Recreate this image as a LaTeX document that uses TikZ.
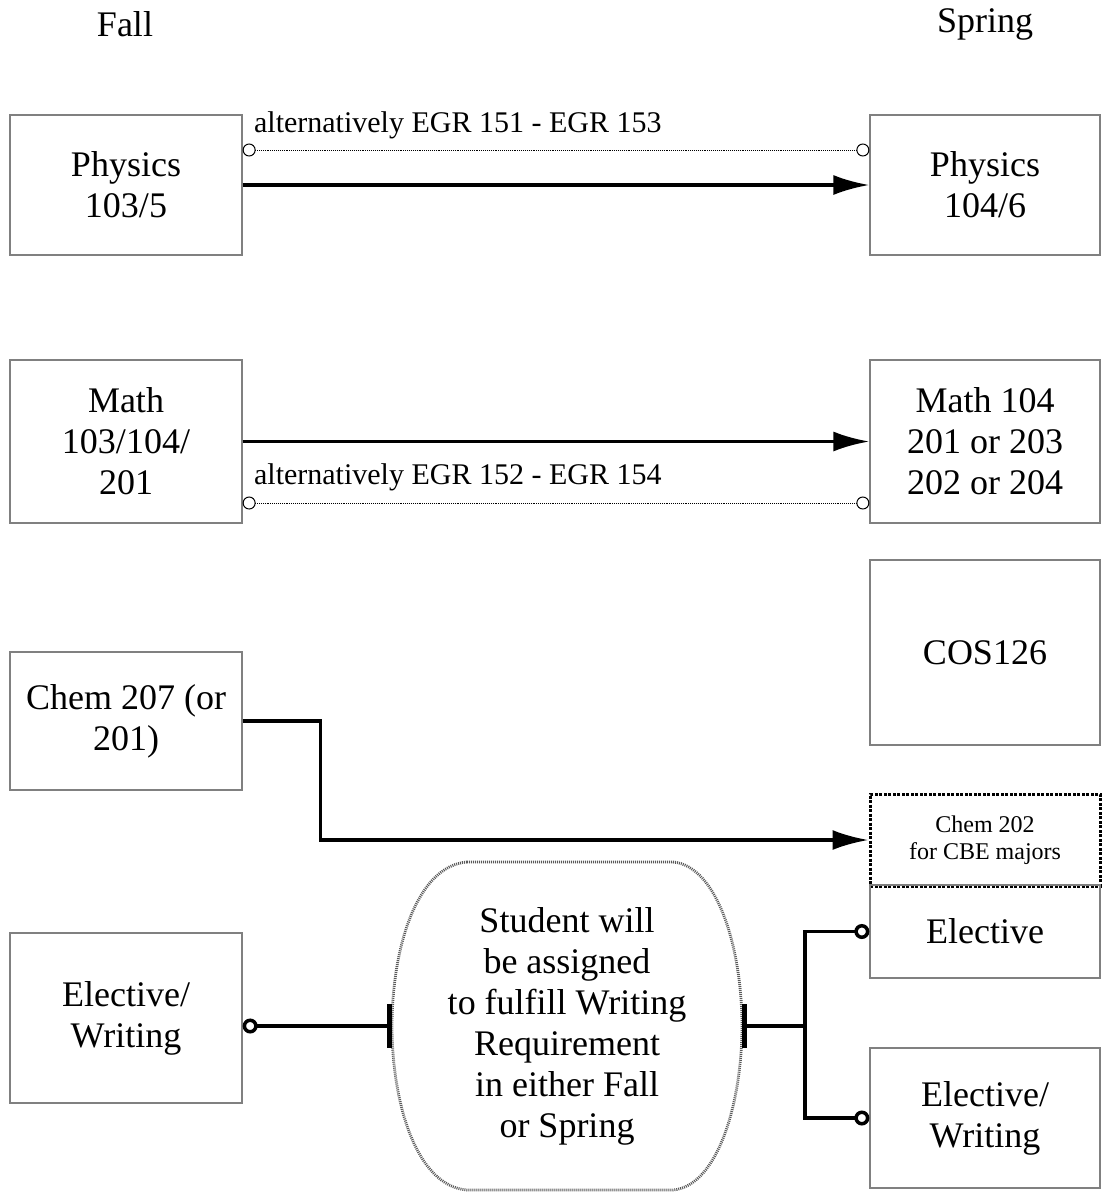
\documentclass[tikz,border=0pt]{standalone}
\usepackage{fontspec}
\setmainfont{Liberation Serif}
\usetikzlibrary{arrows.meta}

\begin{document}
\begin{tikzpicture}[x=1pt,y=-1pt,
  box/.style={draw=gray,line width=1.3pt,inner sep=0pt,align=center,minimum width=232pt,font=\fontsize{36}{41}\selectfont},
  flow/.style={line width=3.4pt,-{Latex[length=36pt,width=20pt]}},
  altline/.style={densely dotted,line width=0.9pt,{Circle[open,length=13pt,line width=1pt]}-{Circle[open,length=13pt,line width=1pt]}},
  alttext/.style={anchor=base west,inner sep=0pt,font=\fontsize{30}{34}\selectfont},
  writeline/.style={line width=3.8pt},
  knob/.tip={Circle[open,length=15pt,line width=3.5pt]}]
\useasboundingbox (0,0) rectangle (1103,1195);

\node[font=\fontsize{36}{41}\selectfont] (fall) at (125,24) {Fall};
\node[font=\fontsize{36}{41}\selectfont] (spring) at (985,24) {Spring};

\node[box,minimum height=140pt] (phyA) at (126,185) {Physics\\103/5};
\node[box,minimum height=140pt,minimum width=230pt] (phyB) at (985,185) {Physics\\104/6};
\node[box,minimum height=163pt] (mathA) at (126,441.5) {Math\\103/104/\\201};
\node[box,minimum height=163pt,minimum width=230pt] (mathB) at (985,441.5) {Math 104\\201 or 203\\202 or 204};
\node[box,minimum height=185pt,minimum width=230pt] (cos) at (985,652.5) {COS126};
\node[box,minimum height=138pt] (chemA) at (126,721) {Chem 207 (or\\201)};
\node[box,minimum height=92pt,minimum width=230pt,draw=black,line width=3pt,dash pattern=on 3pt off 1.5pt,font=\fontsize{24}{27}\selectfont] (chemB) at (985,840) {Chem 202\\for CBE majors};
\node[box,minimum height=93pt,minimum width=230pt] (elecB) at (985,931.5) {Elective};
\node[box,minimum height=140pt,minimum width=230pt] (writB) at (985,1118) {Elective/\\Writing};
\node[box,minimum height=170pt] (writA) at (126,1018) {Elective/\\Writing};

\node[align=center,inner sep=0pt,minimum width=350pt,minimum height=328pt,font=\fontsize{36}{41}\selectfont] (assign) at (567,1026)
  {Student will\\be assigned\\to fulfill Writing\\Requirement\\in either Fall\\or Spring};
\draw[black!65,line width=2.8pt,dash pattern=on 1pt off 1pt]
  (467,862) -- (673,862) .. controls (718,866) and (742,950) .. (742,1026)
  .. controls (742,1102) and (718,1186) .. (673,1190) -- (467,1190)
  .. controls (416,1186) and (392,1102) .. (392,1026)
  .. controls (392,950) and (416,866) .. (467,862) -- cycle;

\draw[flow] (phyA.east) -- (phyB.west);
\draw[altline] ([yshift=35pt]phyA.east) -- ([yshift=35pt]phyB.west)
  node[pos=0,alttext,xshift=11pt,yshift=18pt] {alternatively EGR 151 - EGR 153};
\draw[flow] (mathA.east) -- (mathB.west);
\draw[altline] ([yshift=-61.5pt]mathA.east) -- ([yshift=-61.5pt]mathB.west)
  node[pos=0,alttext,xshift=11pt,yshift=19pt] {alternatively EGR 152 - EGR 154};
\draw[flow] (chemA.east) -- ++(78,0) |- (chemB.west);

\coordinate (split) at (805,1026);
\draw[writeline,{knob}-{Bar[width=44pt,line width=5pt]}] (writA.east |- assign.west) -- (assign.west);
\draw[writeline,{Bar[width=44pt,line width=5pt]}-] (assign.east) -- (split);
\draw[writeline,-{knob}] (split) |- (elecB.west);
\draw[writeline,-{knob}] (split) |- (writB.west);
\end{tikzpicture}
\end{document}
